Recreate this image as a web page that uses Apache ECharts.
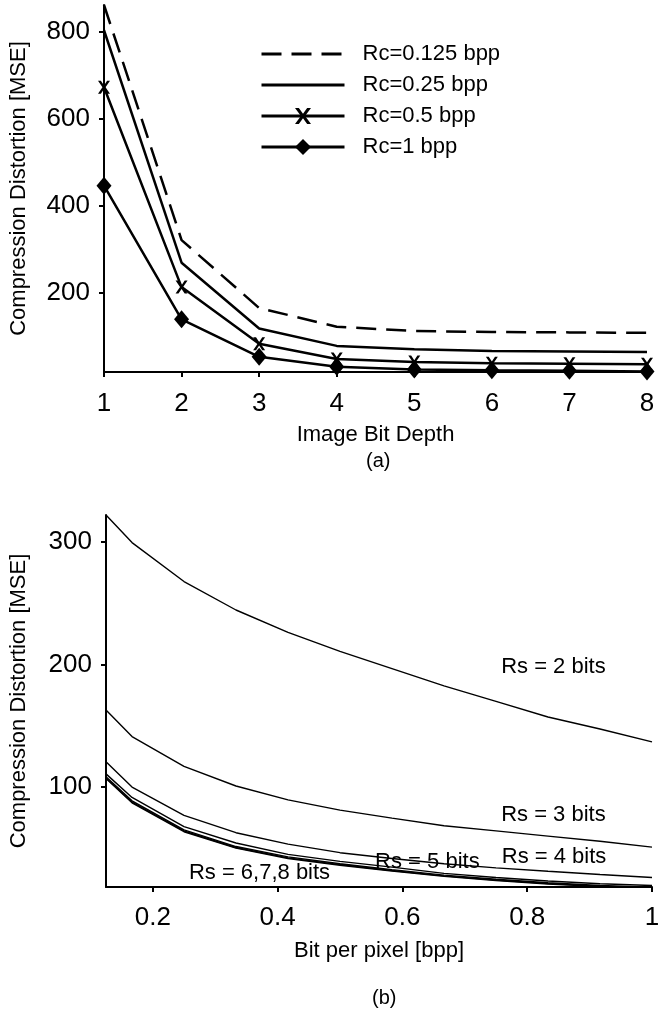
<!DOCTYPE html>
<html>
<head>
<meta charset="utf-8">
<script src="https://cdn.jsdelivr.net/npm/echarts@6/dist/echarts.min.js"></script>
<style>
  html, body { margin: 0; padding: 0; background: #fff; }
  #chart { width: 660px; height: 1021px; }
</style>
</head>
<body>
<div id="chart"></div>
<script>
// (a) distortion vs image bit depth
const bitDepth = [1, 2, 3, 4, 5, 6, 7, 8];
const rc0125 = [861, 321, 165, 122, 112, 110, 109, 108];
const rc025 = [803, 269, 118, 78, 70, 66, 65, 64];
const rc05 = [672, 213, 83, 48, 41, 38, 37, 36];
const rc1 = [446, 139, 53, 30, 24, 22, 21, 19];
const topYTicks = [200, 400, 600, 800];

// (b) distortion vs bit per pixel
const bpp = [0.125, 0.1667, 0.25, 0.3333, 0.4167, 0.5, 0.5833, 0.6667, 0.75, 0.8333, 0.9167, 1.0];
const rs2 = [322, 299.5, 267.7, 244.5, 226.3, 210.7, 196.7, 182.6, 169.9, 157.2, 147.4, 136.9];
const rs3 = [162.9, 141.2, 116.9, 100.9, 89.6, 81.2, 74.7, 68.5, 64.3, 60, 55.8, 51];
const rs4 = [120.6, 100, 77, 62.8, 53.5, 46.5, 41.7, 37.5, 34.1, 31.3, 28.7, 26.2];
const rs5 = [110.8, 91.6, 67.7, 54.4, 45.1, 39.4, 34.7, 29.6, 26.2, 23.4, 21.1, 19.7];
const rs6 = [108.5, 88.8, 65.1, 51.5, 43.1, 37.5, 32.7, 28.2, 24.8, 22, 19.7, 18.3];
const rs7 = [107.5, 87.8, 64.2, 50.7, 42.3, 36.8, 32.0, 27.6, 24.2, 21.4, 19.2, 17.9];
const rs8 = [107, 87.2, 63.6, 50.2, 41.8, 36.3, 31.6, 27.2, 23.8, 21.0, 18.8, 17.5];
const bottomXTicks = [0.2, 0.4, 0.6, 0.8, 1];
const bottomYTicks = [100, 200, 300];
const curveNotes = [
  { text: 'Rs = 2 bits', x: 0.842, y: 198 },
  { text: 'Rs = 3 bits', x: 0.842, y: 77.4 },
  { text: 'Rs = 4 bits', x: 0.843, y: 43 },
  { text: 'Rs = 5 bits', x: 0.640, y: 39 },
  { text: 'Rs = 6,7,8 bits', x: 0.371, y: 30.2 }
];

const FONT = 'Liberation Sans';
const crossPath = 'path://M0,0 L2.4,0 L5,3.6 L7.6,0 L10,0 L6.3,5 L10,10 L7.6,10 L5,6.4 L2.4,10 L0,10 L3.7,5 Z';

function pairs(xs, ys) {
  return xs.map((x, i) => [x, ys[i]]);
}

const axisLine = { show: true, lineStyle: { color: '#000', width: 2 } };

function topSeries(name, ys, extra) {
  return Object.assign({
    name: name,
    type: 'line',
    xAxisIndex: 0,
    yAxisIndex: 0,
    data: pairs(bitDepth, ys),
    symbol: 'none',
    clip: false,
    lineStyle: { color: '#000', width: 2.5 },
    itemStyle: { color: '#000' },
    animation: false
  }, extra || {});
}

function bottomSeries(ys, notes) {
  const s = {
    type: 'line',
    xAxisIndex: 1,
    yAxisIndex: 1,
    data: pairs(bpp, ys),
    symbol: 'none',
    lineStyle: { color: '#000', width: 1.4 },
    animation: false
  };
  if (notes) {
    s.markPoint = {
      symbol: 'circle',
      symbolSize: 0,
      animation: false,
      label: {
        show: true,
        position: 'inside',
        color: '#000',
        fontFamily: FONT,
        fontSize: 22,
        formatter: p => p.name
      },
      data: notes.map(n => ({ name: n.text, coord: [n.x, n.y] }))
    };
  }
  return s;
}

const chart = echarts.init(document.getElementById('chart'), null, { renderer: 'canvas' });

const option = {
  backgroundColor: '#fff',
  animation: false,
  textStyle: { fontFamily: FONT, color: '#000' },
  grid: [
    { left: 104, right: 13, top: 5, height: 367, containLabel: false, outerBoundsMode: 'none' },
    { left: 106, right: 8, top: 515, height: 372, containLabel: false, outerBoundsMode: 'none' }
  ],
  legend: {
    data: [
      { name: 'Rc=0.125 bpp', itemStyle: { opacity: 0 } },
      { name: 'Rc=0.25 bpp', itemStyle: { opacity: 0 } },
      { name: 'Rc=0.5 bpp' },
      { name: 'Rc=1 bpp' }
    ],
    orient: 'vertical',
    left: 255,
    top: 38,
    itemWidth: 83,
    itemHeight: 20,
    itemGap: 9,
    lineStyle: { width: 3 },
    textStyle: { fontFamily: FONT, fontSize: 22, color: '#000', padding: [0, 0, 0, 13] }
  },
  xAxis: [
    {
      type: 'value', gridIndex: 0, min: 1, max: 8, interval: 1,
      name: 'Image Bit Depth', nameLocation: 'middle', nameGap: 52,
      nameTextStyle: { fontFamily: FONT, fontSize: 22, color: '#000' },
      axisLine: axisLine,
      axisTick: { show: true, length: 5, lineStyle: { color: '#000', width: 2 } },
      axisLabel: { fontFamily: FONT, fontSize: 26, color: '#000', margin: 19 },
      splitLine: { show: false }
    },
    {
      type: 'value', gridIndex: 1, min: 0.125, max: 1,
      name: 'Bit per pixel [bpp]', nameLocation: 'middle', nameGap: 53,
      nameTextStyle: { fontFamily: FONT, fontSize: 22, color: '#000' },
      axisLine: axisLine,
      axisTick: { show: true, length: 5, customValues: bottomXTicks, lineStyle: { color: '#000', width: 2 } },
      axisLabel: { fontFamily: FONT, fontSize: 26, color: '#000', margin: 18, customValues: bottomXTicks },
      splitLine: { show: false }
    }
  ],
  yAxis: [
    {
      type: 'value', gridIndex: 0, min: 18, max: 861,
      name: 'Compression Distortion [MSE]', nameLocation: 'middle', nameGap: 74,
      nameTextStyle: { fontFamily: FONT, fontSize: 22, color: '#000' },
      axisLine: axisLine,
      axisTick: { show: true, length: 5, customValues: topYTicks, lineStyle: { color: '#000', width: 2 } },
      axisLabel: { fontFamily: FONT, fontSize: 26, color: '#000', margin: 14, customValues: topYTicks },
      splitLine: { show: false }
    },
    {
      type: 'value', gridIndex: 1, min: 18.5, max: 322,
      name: 'Compression Distortion [MSE]', nameLocation: 'middle', nameGap: 76,
      nameTextStyle: { fontFamily: FONT, fontSize: 22, color: '#000' },
      axisLine: axisLine,
      axisTick: { show: true, length: 5, customValues: bottomYTicks, lineStyle: { color: '#000', width: 2 } },
      axisLabel: { fontFamily: FONT, fontSize: 26, color: '#000', margin: 14, customValues: bottomYTicks },
      splitLine: { show: false }
    }
  ],
  graphic: [
    { type: 'text', left: 366, top: 451, style: { text: '(a)', fontFamily: FONT, fontSize: 20, fill: '#000' } },
    { type: 'text', left: 372, top: 988, style: { text: '(b)', fontFamily: FONT, fontSize: 20, fill: '#000' } }
  ],
  series: [
    topSeries('Rc=0.125 bpp', rc0125, { lineStyle: { color: '#000', width: 2.5, type: [20, 10] } }),
    topSeries('Rc=0.25 bpp', rc025),
    topSeries('Rc=0.5 bpp', rc05, { symbol: crossPath, symbolSize: [12, 13] }),
    topSeries('Rc=1 bpp', rc1, { symbol: 'diamond', symbolSize: [15, 18] }),
    bottomSeries(rs2, [curveNotes[0]]),
    bottomSeries(rs3, [curveNotes[1]]),
    bottomSeries(rs4, [curveNotes[2]]),
    bottomSeries(rs5, [curveNotes[3]]),
    bottomSeries(rs6, [curveNotes[4]]),
    bottomSeries(rs7),
    bottomSeries(rs8)
  ]
};

chart.setOption(option);
window.onresize = function () { chart.resize(); };
</script>
</body>
</html>
